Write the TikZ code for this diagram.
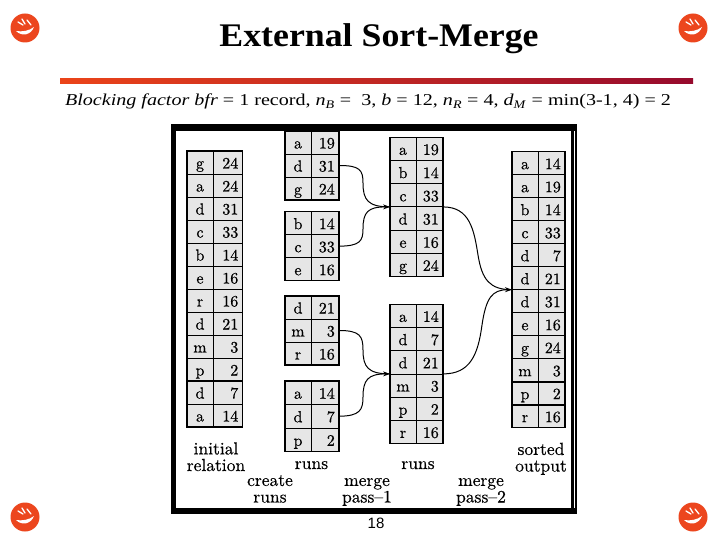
\documentclass[tikz,border=0pt]{standalone}
\usepackage{fontspec}
\usepackage{graphicx}
\usetikzlibrary{arrows.meta}
\newfontfamily\timesfont{Liberation Serif}
\newfontfamily\arialfont{Liberation Sans}
\newfontfamily\cellfont{lmroman10-regular}[Extension=.otf, Ligatures=TeX, FakeBold=0.5]
\newfontfamily\lblfont{lmroman10-regular}[Extension=.otf, Ligatures=TeX, FakeBold=0.4]
\definecolor{cellgray}{RGB}{230,230,230}
\definecolor{iconred}{RGB}{236,70,30}
\definecolor{barleft}{RGB}{235,68,25}
\definecolor{barright}{RGB}{150,10,45}
\tikzset{
  tblbox/.style={fill=cellgray, inner sep=0pt, outer sep=0pt, anchor=north west},
  cellline/.style={line width=0.8pt},
  sepline/.style={line width=1.6pt},
  celltxt/.style={font=\cellfont\fontsize{16}{16}\selectfont, inner sep=0pt},
  lbl/.style={font=\lblfont\fontsize{17.5}{16.6}\selectfont, align=center, inner sep=0pt},
  conn/.style={line width=1pt},
  tip/.style={-{Stealth[length=7pt,width=5pt]}},
}
\newcommand\rtable[7]{%
  \pgfmathsetmacro\tabh{#5*#6}%
  \node[tblbox, minimum width=#4pt, minimum height=\tabh pt] (#1) at (#2,#3) {};%
  \draw[cellline] (#2+26,#3) -- (#2+26,#3+\tabh);%
  \foreach \lt/\nm [count=\i] in {#7} {%
    \coordinate (#1-r\i) at (#2,#3+\i*#6);%
    \ifnum\i<#5 \draw[cellline] (#2,#3+\i*#6) -- (#2+#4,#3+\i*#6);\fi%
    \node[celltxt, anchor=base] (#1-l\i) at (#2+13,#3+\i*#6-#6/2+6) {\lt};%
    \node[celltxt, anchor=base east] (#1-n\i) at (#2+#4-4,#3+\i*#6-#6/2+6) {\nm};%
  }%
  \draw[line width=1.5pt] (#2,#3) rectangle (#2+#4,#3+\tabh);%
}
\newcommand\smicon[1]{%
  \begin{scope}[shift={#1}]
    \fill[iconred] (0,0) circle (14.5);
    \fill[white] (-9,3) .. controls (-3,9) and (6,7) .. (9,-1) .. controls (4,3) and (-3,4) .. (-9,3) -- cycle;
    \draw[white, line width=1.3pt, line cap=round] (-7,-6) -- (-2,-3) (-3,-9) -- (0,-4) (2,-8) -- (6,-3);
  \end{scope}%
}
\begin{document}
\begin{tikzpicture}[x=1pt,y=-1pt]
\useasboundingbox (0,0) rectangle (720,540);
\fill[white] (0,0) rectangle (720,540);
% icons
\smicon{(25,28)}
\smicon{(693,28)}
\smicon{(25,517)}
\smicon{(693,517)}
% title
\node[font=\timesfont\bfseries\fontsize{33}{36}\selectfont, anchor=base, inner sep=0pt] (title) at (379,47) {\scalebox{1.085}[1]{External Sort-Merge}};
\shade[left color=barleft, right color=barright] (60,79) rectangle (693,84);
\node[font=\timesfont\fontsize{16.6}{18}\selectfont, anchor=base, inner sep=0pt] (sub) at (368,106)
  {\scalebox{1.21}[1]{\textit{Blocking factor bfr} = 1 record, \textit{n}\textsubscript{\textit{B}} =\ \ 3, \textit{b} = 12, \textit{n}\textsubscript{\textit{R}} = 4, \textit{d}\textsubscript{\textit{M}} = min(3-1, 4) = 2}};
% tables
\rtable{init}{187}{151}{55.5}{12}{23}{g/24,a/24,d/31,c/33,b/14,e/16,r/16,d/21,m/3,p/2,d/7,a/14}
\rtable{r1}{285}{131}{54}{3}{23}{a/19,d/31,g/24}
\rtable{r2}{285}{211.7}{54}{3}{23}{b/14,c/33,e/16}
\rtable{r3}{285}{296}{54}{3}{23}{d/21,m/3,r/16}
\rtable{r4}{285}{381}{54}{3}{23.5}{a/14,d/7,p/2}
\rtable{m1}{390}{137.3}{53}{6}{23.2}{a/19,b/14,c/33,d/31,e/16,g/24}
\rtable{m2}{390}{304.3}{53}{6}{23.2}{a/14,d/7,d/21,m/3,p/2,r/16}
\rtable{out}{512}{151.7}{53}{12}{23}{a/14,a/19,b/14,c/33,d/7,d/21,d/31,e/16,g/24,m/3,p/2,r/16}
\draw[sepline] (init-r10) -- ++(55.5,0);
\draw[sepline] (m1-r1) -- ++(53,0);
\draw[sepline] (out-r2) -- ++(53,0);
\draw[sepline] (out-r3) -- ++(53,0);
\draw[sepline] (out-r10) -- ++(53,0);
\draw[sepline] (out-r11) -- ++(53,0);
% connectors
\draw[conn] (r1.east) .. controls (360,165.5) and (363,170) .. (363,183) .. controls (363,200) and (368,206.9) .. (m1.west);
\draw[conn,tip] (r2.east) .. controls (360,246) and (363,241) .. (363,229) .. controls (363,212) and (368,206.9) .. (m1.west);
\draw[conn] (r3.east) .. controls (360,330.5) and (363,336) .. (363,350) .. controls (363,367) and (368,373.9) .. (m2.west);
\draw[conn,tip] (r4.east) .. controls (360,416) and (363,410) .. (363,397) .. controls (363,380) and (368,373.9) .. (m2.west);
\draw[conn] (m1.east) .. controls (470,207) and (474,230) .. (478,255) .. controls (482,280) and (490,289.7) .. (out.west);
\draw[conn,tip] (m2.east) .. controls (470,374) and (478,355) .. (482,325) .. controls (486,298) and (492,289.7) .. (out.west);
% frame
\fill[black] (171,124) rectangle (575,131);
\fill[black] (171,124) rectangle (176,514);
\fill[black] (171,508) rectangle (576.5,514);
\fill[black] (571,124) rectangle (573.5,514);
\fill[black] (574.5,124) rectangle (576.5,514);
% labels
\node[lbl, anchor=base] (lini) at (216,471) {initial\\relation};
\node[lbl, anchor=base] (lruns1) at (311.5,469) {runs};
\node[lbl, anchor=base] (lcreate) at (270,502.5) {create\\runs};
\node[lbl, anchor=base] (lmerge1) at (367,502.5) {merge\\pass--1};
\node[lbl, anchor=base] (lruns2) at (418,469) {runs};
\node[lbl, anchor=base] (lmerge2) at (481,502.5) {merge\\pass--2};
\node[lbl, anchor=base] (lsorted) at (541,471.5) {sorted\\output};
\node[font=\arialfont\fontsize{15}{15}\selectfont, anchor=base, inner sep=0pt] (page) at (376,528) {18};
\end{tikzpicture}
\end{document}
